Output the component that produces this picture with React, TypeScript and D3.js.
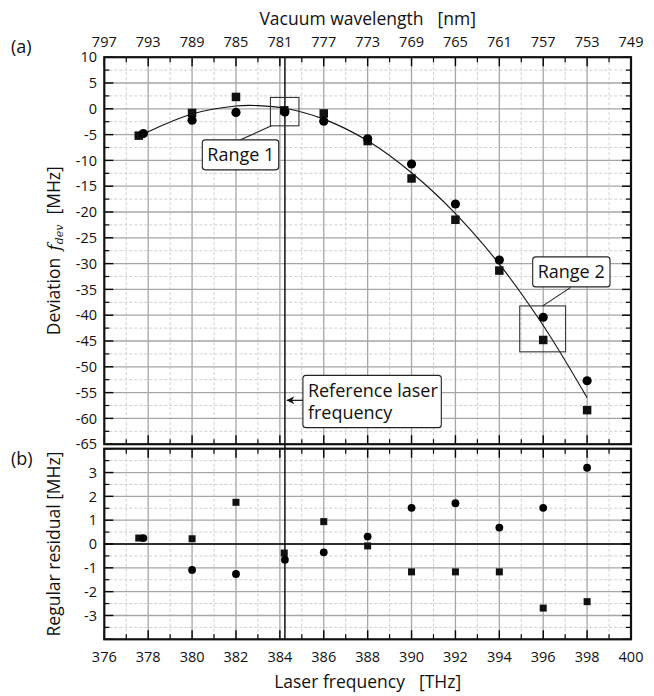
import React from "react";
import * as d3 from "d3";

// ---- data ----
const freqCircle = [377.78, 380, 382, 384.23, 386, 388, 390, 392, 394, 396, 398];
const devCircle = [-4.8, -2.2, -0.7, -0.6, -2.4, -5.8, -10.7, -18.45, -29.3, -40.4, -52.7];
const freqSquare = [377.57, 380, 382, 384.2, 386, 388, 390, 392, 394, 396, 398];
const devSquare = [-5.2, -0.8, 2.3, -0.3, -0.9, -6.25, -13.5, -21.5, -31.35, -44.8, -58.4];
const resCircle = [0.25, -1.09, -1.26, -0.66, -0.35, 0.31, 1.52, 1.71, 0.69, 1.52, 3.2];
const resSquare = [0.25, 0.22, 1.75, -0.38, 0.94, -0.08, -1.17, -1.17, -1.17, -2.69, -2.42];
const fitFreq = [377.57, 378, 380, 382, 383, 384.23, 386, 388, 390, 392, 394, 396, 398];
const fitDev = [-5.45, -4.45, -1.0, 0.55, 0.62, 0.1, -2.0, -6.2, -12.4, -20.3, -30.1, -42.0, -56.0];
const freqTicks = [376, 378, 380, 382, 384, 386, 388, 390, 392, 394, 396, 398, 400];
const wavelengthLabels = ["797", "793", "789", "785", "781", "777", "773", "769", "765", "761", "757", "753", "749"];
const devTicks = [10, 5, 0, -5, -10, -15, -20, -25, -30, -35, -40, -45, -50, -55, -60, -65];
const resTicks = [3, 2, 1, 0, -1, -2, -3];
const referenceFreq = 384.23;
const range1 = { f0: 383.57, f1: 384.87, d0: 2.2, d1: -3.3 };
const range2 = { f0: 394.93, f1: 397.02, d0: -38.2, d1: -47.1 };

const FONT = "'Open Sans', 'Noto Sans', sans-serif";

export default function App() {
  const x = d3.scaleLinear().domain([376, 400]).range([104.3, 631]);
  const yA = d3.scaleLinear().domain([-65, 10]).range([444.2, 57.2]);
  const yB = d3.scaleLinear().domain([-4, 4]).range([639.3, 448.7]);

  const xMajor = d3.range(376, 400.1, 2);
  const xMinor = d3.range(377, 400, 2);
  const aMajor = d3.range(-65, 10.1, 5);
  const aMinor = d3.range(-62.5, 10, 5);
  const bMajor = d3.range(-4, 4.1, 1);
  const bMinor = d3.range(-3.5, 4, 1);

  const fitLine = d3
    .line<number>()
    .x((_, i) => x(fitFreq[i]))
    .y((d) => yA(d))
    .curve(d3.curveCatmullRom.alpha(0.5));

  const gridMajor = "#a6a6a6";
  const gridMinor = "#cfcfcf";

  const panel = (
    y: d3.ScaleLinear<number, number>,
    major: number[],
    minor: number[],
    key: string
  ) => {
    const [yb, yt] = y.range();
    const xl = x(376), xr = x(400);
    return (
      <g key={key}>
        {/* minor grid */}
        {xMinor.map((f) => (
          <line key={"vx" + f} x1={x(f)} x2={x(f)} y1={yt} y2={yb} stroke={gridMinor} strokeWidth={1} strokeDasharray="3,2" />
        ))}
        {minor.map((v) => (
          <line key={"hy" + v} x1={xl} x2={xr} y1={y(v)} y2={y(v)} stroke={gridMinor} strokeWidth={1} strokeDasharray="3,2" />
        ))}
        {/* major grid */}
        {xMajor.slice(1, -1).map((f) => (
          <line key={"VX" + f} x1={x(f)} x2={x(f)} y1={yt} y2={yb} stroke={gridMajor} strokeWidth={1.3} />
        ))}
        {major.slice(1, -1).map((v) => (
          <line key={"HY" + v} x1={xl} x2={xr} y1={y(v)} y2={y(v)} stroke={gridMajor} strokeWidth={1.3} />
        ))}
        {/* ticks */}
        {xMajor.map((f) => (
          <g key={"tx" + f}>
            <line x1={x(f)} x2={x(f)} y1={yt} y2={yt + 9} stroke="#000" strokeWidth={1.4} />
            <line x1={x(f)} x2={x(f)} y1={yb} y2={yb - 9} stroke="#000" strokeWidth={1.4} />
          </g>
        ))}
        {xMinor.map((f) => (
          <g key={"tm" + f}>
            <line x1={x(f)} x2={x(f)} y1={yt} y2={yt + 5} stroke="#000" strokeWidth={1.2} />
            <line x1={x(f)} x2={x(f)} y1={yb} y2={yb - 5} stroke="#000" strokeWidth={1.2} />
          </g>
        ))}
        {major.map((v) => (
          <g key={"ty" + v}>
            <line x1={xl} x2={xl + 9} y1={y(v)} y2={y(v)} stroke="#000" strokeWidth={1.4} />
            <line x1={xr} x2={xr - 9} y1={y(v)} y2={y(v)} stroke="#000" strokeWidth={1.4} />
          </g>
        ))}
        {minor.map((v) => (
          <g key={"tn" + v}>
            <line x1={xl} x2={xl + 5} y1={y(v)} y2={y(v)} stroke="#000" strokeWidth={1.2} />
            <line x1={xr} x2={xr - 5} y1={y(v)} y2={y(v)} stroke="#000" strokeWidth={1.2} />
          </g>
        ))}
      </g>
    );
  };

  const frame = (y: d3.ScaleLinear<number, number>, key: string) => {
    const [yb, yt] = y.range();
    return (
      <rect key={key} x={x(376)} y={yt} width={x(400) - x(376)} height={yb - yt} fill="none" stroke="#111" strokeWidth={2.2} />
    );
  };

  const circle = (cx: number, cy: number, r: number, k: string) => <circle key={k} cx={cx} cy={cy} r={r} fill="#000" />;
  const square = (cx: number, cy: number, s: number, k: string) => (
    <rect key={k} x={cx - s / 2} y={cy - s / 2} width={s} height={s} fill="#111" />
  );

  const labelBox = (bx: number, by: number, w: number, h: number, lines: string[], k: string) => (
    <g key={k}>
      <rect x={bx} y={by} width={w} height={h} rx={3} fill="#fff" stroke="#222" strokeWidth={1.1} />
      {lines.map((t, i) => (
        <text key={i} x={bx + 5} y={by + 21.5 + i * 21.7} fontSize={18} fontFamily={FONT} fill="#111">
          {t}
        </text>
      ))}
    </g>
  );

  // annotation geometry anchored on the data scales
  const r1 = { x0: x(range1.f0), x1: x(range1.f1), y0: yA(range1.d0), y1: yA(range1.d1) };
  const r2 = { x0: x(range2.f0), x1: x(range2.f1), y0: yA(range2.d0), y1: yA(range2.d1) };
  const refX = x(referenceFreq);
  const refBoxX = refX + 18;
  const refBoxY = yA(-51.66);
  const arrowY = yA(-56.5);

  return (
    <svg width={654} height={696} style={{ position: "absolute", left: 0, top: 0, background: "#fff" }} fontFamily={FONT}>
      <rect width={654} height={696} fill="#fff" />
      {panel(yA, aMajor, aMinor, "pa")}
      {panel(yB, bMajor, bMinor, "pb")}

      {/* zero line of residuals */}
      <line x1={x(376)} x2={x(400)} y1={yB(0)} y2={yB(0)} stroke="#000" strokeWidth={1.4} />

      {/* reference laser frequency */}
      <line x1={refX} x2={refX} y1={yA(10)} y2={yB(-4)} stroke="#000" strokeWidth={1.4} />

      {/* fit curve */}
      <path d={fitLine(fitDev) || ""} fill="none" stroke="#111" strokeWidth={1.1} />

      {/* panel a markers */}
      {freqSquare.map((f, i) => square(x(f), yA(devSquare[i]), 8.5, "sa" + i))}
      {freqCircle.map((f, i) => circle(x(f), yA(devCircle[i]), 4.6, "ca" + i))}

      {/* panel b markers */}
      {freqSquare.map((f, i) => square(x(f), yB(resSquare[i]), 7, "sb" + i))}
      {freqCircle.map((f, i) => circle(x(f), yB(resCircle[i]), 3.9, "cb" + i))}

      {/* Range 1 */}
      <rect x={r1.x0} y={r1.y0} width={r1.x1 - r1.x0} height={r1.y1 - r1.y0} fill="none" stroke="#333" strokeWidth={1.1} />
      <line x1={r1.x0 + 1} y1={r1.y1} x2={r1.x0 - 30} y2={r1.y1 + 14} stroke="#222" strokeWidth={1.1} />
      {labelBox(202.3, r1.y1 + 14, 76.4, 30, ["Range 1"], "lb1")}

      {/* Range 2 */}
      <rect x={r2.x0} y={r2.y0} width={r2.x1 - r2.x0} height={r2.y1 - r2.y0} fill="none" stroke="#333" strokeWidth={1.1} />
      <line x1={r2.x0 + 23} y1={r2.y0} x2={r2.x0 + 51} y2={r2.y0 - 18.5} stroke="#222" strokeWidth={1.1} />
      {labelBox(532.7, r2.y0 - 49, 77.3, 30, ["Range 2"], "lb2")}

      {/* Reference laser frequency label */}
      {labelBox(refBoxX, refBoxY, 138.4, 52.3, ["Reference laser", "frequency"], "lbr")}
      <line x1={refBoxX} y1={arrowY} x2={refX + 2} y2={arrowY} stroke="#111" strokeWidth={1.2} />
      <path d={`M${refX + 1.5},${arrowY} l8,-4 l-2.5,4 l2.5,4 z`} fill="#111" />

      {/* left tick labels */}
      {devTicks.map((v) => (
        <text key={"la" + v} x={97} y={yA(v)} dy="0.36em" textAnchor="end" fontSize={14.5} fill="#111">
          {v}
        </text>
      ))}
      {resTicks.map((v) => (
        <text key={"lb" + v} x={97} y={yB(v)} dy="0.36em" textAnchor="end" fontSize={14.5} fill="#111">
          {v}
        </text>
      ))}

      {/* bottom tick labels */}
      {freqTicks.map((f) => (
        <text key={"bt" + f} x={x(f)} y={662} textAnchor="middle" fontSize={14.5} fill="#111">
          {f}
        </text>
      ))}
      {/* top tick labels */}
      {freqTicks.map((f, i) => (
        <text key={"tt" + f} x={x(f)} y={47} textAnchor="middle" fontSize={14.5} fill="#111">
          {wavelengthLabels[i]}
        </text>
      ))}

      {/* axis titles */}
      <text x={(x(376) + x(400)) / 2} y={25} textAnchor="middle" fontSize={17.5} fill="#111">
        Vacuum wavelength<tspan dx={14}>[nm]</tspan>
      </text>
      <text x={(x(376) + x(400)) / 2} y={688} textAnchor="middle" fontSize={17.5} fill="#111">
        Laser frequency<tspan dx={14}>[THz]</tspan>
      </text>
      <text transform={`translate(60,${(yA(10) + yA(-65)) / 2}) rotate(-90)`} textAnchor="middle" fontSize={17.5} fill="#111">
        Deviation
        <tspan dx={7} fontFamily="'DejaVu Serif', 'Liberation Serif', serif" fontStyle="italic">f</tspan>
        <tspan fontFamily="'DejaVu Serif', 'Liberation Serif', serif" fontStyle="italic" fontSize={11} dy={3}>dev</tspan>
        <tspan dx={10} dy={-3}>[MHz]</tspan>
      </text>
      <text transform={`translate(60,${(yB(4) + yB(-4)) / 2}) rotate(-90)`} textAnchor="middle" fontSize={17.5} fill="#111">
        Regular residual [MHz]
      </text>

      {/* panel letters */}
      <text x={11} y={53} fontSize={18} fill="#111">(a)</text>
      <text x={11} y={465} fontSize={18} fill="#111">(b)</text>

      {frame(yA, "fa")}
      {frame(yB, "fb")}
    </svg>
  );
}
